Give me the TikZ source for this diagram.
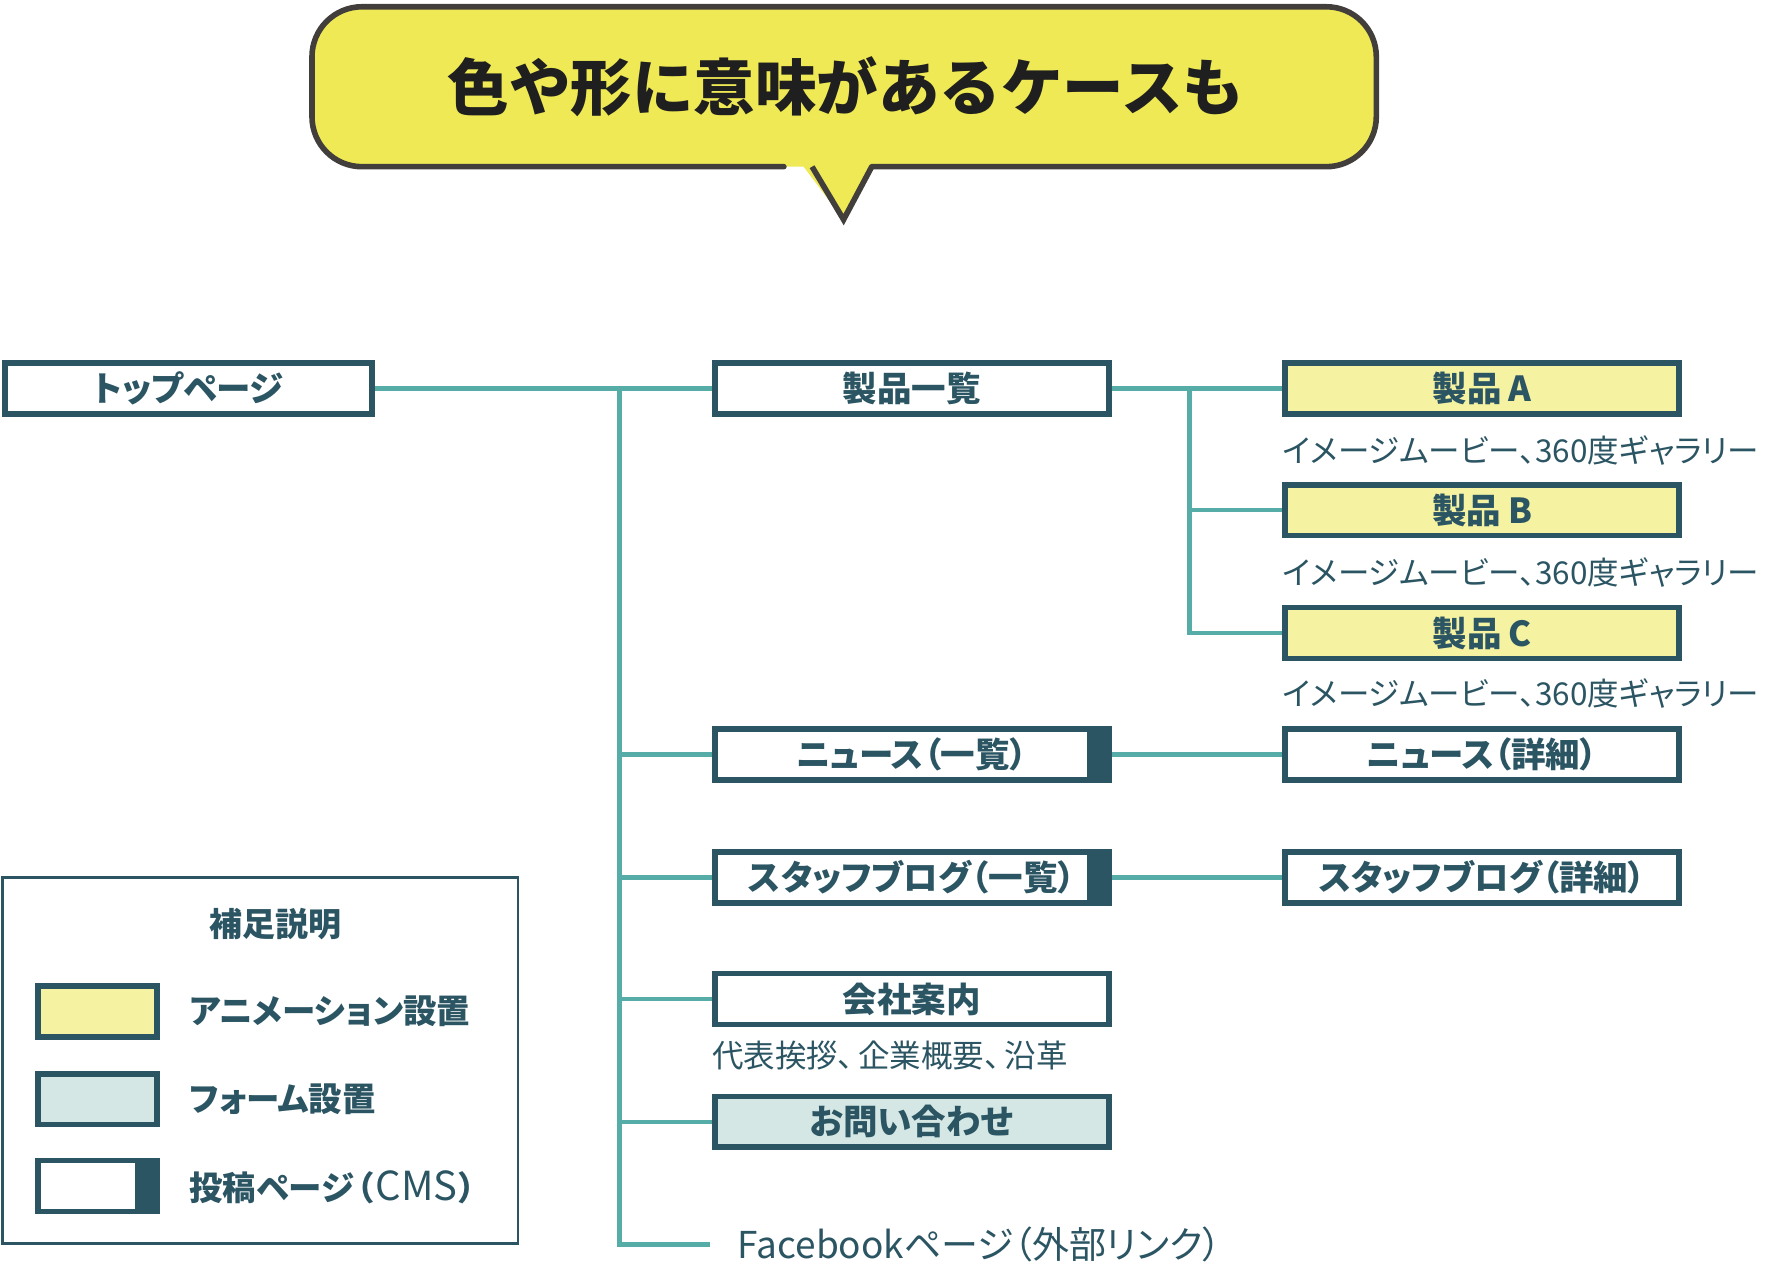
\documentclass[tikz,border=0pt]{standalone}
\usepackage{fontspec}
\setmainfont{Noto Sans CJK JP}[RawFeature=+palt]
\newfontfamily\titlefont{Noto Sans CJK JP}
\definecolor{dk}{HTML}{2B5563}
\definecolor{tl}{HTML}{56ADA8}
\definecolor{ylw}{HTML}{F5F2A1}
\definecolor{frm}{HTML}{D4E7E4}
\definecolor{bubfill}{HTML}{EEE955}
\definecolor{bubline}{HTML}{423E3C}
\begin{document}
\begin{tikzpicture}[x=1.1263pt,y=-1.1263pt,
  box/.style={draw=dk, line width=5.6pt, fill=white, minimum width=394pt, minimum height=50.7pt, inner sep=0pt, text=dk, font=\fontsize{34.5}{40}\selectfont\bfseries},
  anim/.style={box, fill=ylw},
  form/.style={box, fill=frm},
  cms/.style={box, path picture={\fill[dk] ([xshift=-22pt]path picture bounding box.north east) rectangle (path picture bounding box.south east);}},
  note/.style={anchor=west, inner sep=0pt, text=dk, font=\fontsize{31.5}{36}\selectfont},
  link/.style={draw=tl, line width=4.5pt},
  swatch/.style={box, minimum width=119pt},
  legtext/.style={anchor=west, inner sep=0pt, text=dk, font=\fontsize{33.5}{38}\selectfont\bfseries},
]
\useasboundingbox (0,0) rectangle (1568,1137);

% speech bubble
\fill[bubfill, rounded corners=50pt] (277,6) rectangle (1222,148);
\fill[bubfill] (712,146) -- (749,195) -- (778,146) -- cycle;
\draw[bubline, line width=5.6pt, line cap=round, rounded corners=50pt]
  (696,148) -- (277,148) -- (277,6) -- (1222,6) -- (1222,148) -- (774,148);
\draw[bubline, line width=5.6pt, line join=miter] (774,148) -- (749,195) -- (721,148);
\node[text=black!88, font=\titlefont\fontsize{61.5}{70}\selectfont\bfseries] (title) at (751,77) {色や形に意味があるケースも};

% nodes
\node[box, minimum width=367pt] (top) at (167.5,345) {トップページ};
\node[box] (ichiran) at (809.5,345) {製品一覧};
\node[anim] (pA) at (1316,345) {製品\hspace{0.2em}A};
\node[anim] (pB) at (1316,453) {製品\hspace{0.2em}B};
\node[anim] (pC) at (1316,562) {製品\hspace{0.2em}C};
\node[note] (nA) at (1139,400) {イメージムービー、360度ギャラリー};
\node[note] (nB) at (1139,508) {イメージムービー、360度ギャラリー};
\node[note] (nC) at (1139,616) {イメージムービー、360度ギャラリー};
\node[cms] (news) at (809.5,670) {ニュース（一覧）};
\node[box] (newsd) at (1316,670) {ニュース（詳細）};
\node[cms] (blog) at (809.5,779) {スタッフブログ（一覧）};
\node[box] (blogd) at (1316,779) {スタッフブログ（詳細）};
\node[box] (kaisha) at (809.5,887) {会社案内};
\node[note] (nK) at (632,937) {代表挨拶、\hspace{0.15em}企業概要、\hspace{0.15em}沿革};
\node[form] (toi) at (809.5,996) {お問い合わせ};
\node[anchor=west, inner xsep=28pt, inner ysep=0pt, text=dk, font=\fontsize{37}{42}\selectfont] (fb) at (630,1105) {Facebookページ（外部リンク）};

% connectors
\coordinate (j) at (550,345);
\coordinate (k) at (1056,345);
\draw[link] (top.east) -- (ichiran.west);
\draw[link] (j) |- (fb.west);
\draw[link] (j |- news.west) -- (news.west);
\draw[link] (j |- blog.west) -- (blog.west);
\draw[link] (j |- kaisha.west) -- (kaisha.west);
\draw[link] (j |- toi.west) -- (toi.west);
\draw[link] (ichiran.east) -- (pA.west);
\draw[link] (k) |- (pC.west);
\draw[link] (k |- pB.west) -- (pB.west);
\draw[link] (news.east) -- (newsd.west);
\draw[link] (blog.east) -- (blogd.west);

% legend
\draw[dk, line width=2.5pt] (2,779) rectangle (460,1104);
\node[text=dk, font=\fontsize{33}{38}\selectfont\bfseries] (legtitle) at (245,820) {補足説明};
\node[swatch, fill=ylw] (sw1) at (86.5,898) {};
\node[swatch, fill=frm] (sw2) at (86.5,976) {};
\node[swatch, cms, minimum width=119pt] (sw3) at (86.5,1053) {};
\node[legtext] (l1) at (168,898) {アニメーション設置};
\node[legtext] (l2) at (168,976) {フォーム設置};
\node[legtext] (l3) at (168,1054) {投稿ページ\hspace{0.1em}（\hspace{0.05em}{\mdseries\fontsize{40}{42}\selectfont CMS}\hspace{0.05em}）};
\end{tikzpicture}
\end{document}
